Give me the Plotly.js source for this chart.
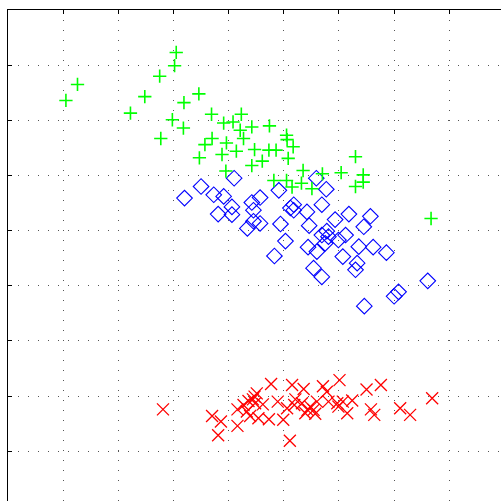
<!DOCTYPE html>
<html>
<head>
<meta charset="utf-8">
<script src="https://cdn.plot.ly/plotly-3.0.1.min.js"></script>
<style>
html, body { margin: 0; padding: 0; overflow: hidden; background: #fff; }
#chart { width: 552px; height: 554px; }
</style>
</head>
<body>
<div id="chart"></div>
<script>
// Green "+" series
var greenX = [3.05, 3.02, 1.26, 1.05, 2.75, 2.48, 2.22, 3.46, 3.19, 2.98, 3.18, 2.77, 3.69, 3.91, 4.08, 4.23, 4.21, 4.27, 3.70, 3.57, 3.96, 3.88, 4.14, 3.47, 3.95, 4.42, 4.74, 5.05, 5.06, 5.17, 4.47, 4.73, 4.86, 5.08, 4.61, 4.42, 5.35, 5.70, 6.04, 6.30, 6.44, 6.44, 6.30, 4.82, 5.05, 5.15, 5.32, 5.51, 7.67];
var greenY = [8.23, 7.99, 7.65, 7.36, 7.80, 7.43, 7.13, 7.48, 7.32, 7.01, 6.86, 6.67, 7.11, 6.95, 6.97, 7.11, 6.82, 6.67, 6.67, 6.56, 6.59, 6.38, 6.44, 6.32, 6.08, 6.88, 6.90, 6.73, 6.65, 6.52, 6.47, 6.46, 6.46, 6.31, 6.26, 6.18, 6.09, 6.03, 6.05, 6.34, 6.01, 5.88, 5.80, 5.91, 5.91, 5.79, 5.86, 5.76, 5.22];

// Blue diamond series
var blueX = [3.20, 3.50, 3.73, 3.91, 4.10, 3.81, 4.06, 4.06, 4.34, 4.42, 4.45, 4.57, 4.45, 4.57, 4.91, 4.94, 5.03, 4.83, 5.12, 5.18, 5.18, 5.42, 5.46, 5.59, 5.77, 5.69, 5.93, 5.69, 5.81, 5.75, 5.44, 5.60, 5.99, 6.12, 6.18, 6.07, 5.54, 5.69, 6.36, 6.45, 6.57, 6.62, 6.86, 6.33, 6.30, 6.46, 7.00, 7.08, 7.61, 5.78];
var blueY = [5.59, 5.80, 5.65, 5.62, 5.95, 5.30, 5.43, 5.29, 5.04, 5.51, 5.37, 5.60, 5.17, 5.13, 5.73, 5.12, 4.81, 4.54, 5.41, 5.47, 5.37, 5.34, 5.09, 5.95, 5.75, 5.47, 5.20, 4.92, 4.89, 4.77, 4.70, 4.62, 4.83, 4.92, 5.30, 4.53, 4.32, 4.16, 4.71, 5.07, 5.26, 4.70, 4.60, 4.41, 4.29, 3.63, 3.81, 3.89, 4.09, 4.99];

// Red "x" series
var redX = [2.81, 3.70, 3.86, 3.81, 4.16, 4.16, 4.27, 4.33, 4.39, 4.44, 4.51, 4.48, 4.62, 4.54, 4.73, 4.77, 4.89, 4.99, 5.11, 5.06, 5.15, 5.21, 5.19, 5.36, 5.33, 5.39, 5.48, 5.54, 5.57, 5.60, 5.71, 5.78, 5.81, 5.97, 6.01, 5.99, 6.07, 6.15, 6.24, 6.50, 6.58, 6.64, 6.76, 7.11, 7.29, 7.69, 4.36, 4.47, 5.43];
var redY = [1.76, 1.64, 1.54, 1.29, 1.46, 1.76, 1.84, 1.72, 1.64, 1.94, 2.05, 1.87, 1.85, 1.60, 1.58, 2.22, 1.90, 1.57, 1.19, 1.78, 2.20, 1.94, 1.84, 2.13, 1.87, 1.69, 1.81, 1.75, 1.68, 1.90, 2.18, 2.08, 1.90, 1.87, 2.29, 1.81, 1.90, 1.69, 1.92, 2.12, 1.76, 1.66, 2.20, 1.78, 1.66, 1.96, 1.91, 1.99, 1.75];

var traces = [
  {x: redX, y: redY, mode: 'markers', type: 'scatter',
   marker: {symbol: 'x-thin-open', size: 12, color: '#ff0000', line: {color: '#ff0000', width: 1.3}}},
  {x: blueX, y: blueY, mode: 'markers', type: 'scatter',
   marker: {symbol: 'diamond-open', size: 12, color: '#0000ff', line: {color: '#0000ff', width: 1.1}}},
  {x: greenX, y: greenY, mode: 'markers', type: 'scatter',
   marker: {symbol: 'cross-thin-open', size: 9.5, color: '#00ff00', line: {color: '#00ff00', width: 1.6}}}
];

var axisCommon = {
  dtick: 1, tick0: 0,
  showgrid: true, gridcolor: '#555555', gridwidth: 1, griddash: '1px,9px',
  zeroline: false,
  showline: true, linecolor: '#000000', linewidth: 1.5,
  mirror: 'ticks', ticks: 'inside', ticklen: 4, tickwidth: 1, tickcolor: '#000000',
  showticklabels: false, fixedrange: true
};

var layout = {
  width: 552, height: 554,
  margin: {l: 8, t: 10, r: 20, b: 20, pad: 0},
  paper_bgcolor: '#ffffff', plot_bgcolor: '#ffffff',
  showlegend: false,
  xaxis: Object.assign({}, axisCommon, {range: [0, 9.5]}),
  yaxis: Object.assign({}, axisCommon, {range: [-0.5, 9]})
};

Plotly.newPlot('chart', traces, layout, {displayModeBar: false, staticPlot: true});
</script>
</body>
</html>
